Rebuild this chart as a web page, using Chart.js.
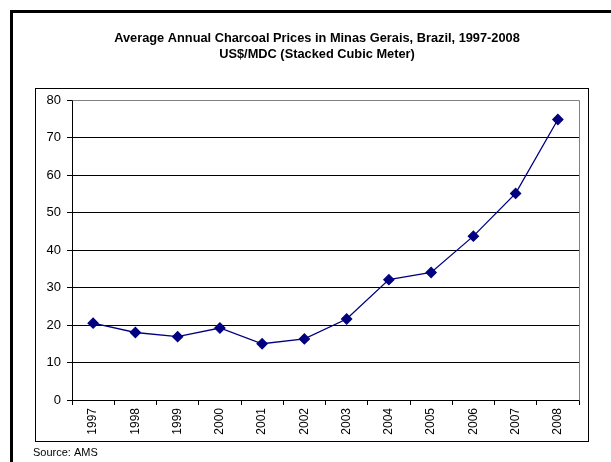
<!DOCTYPE html>
<html>
<head>
<meta charset="utf-8">
<script src="https://cdn.jsdelivr.net/npm/chart.js@4/dist/chart.umd.min.js"></script>
<style>
  html, body { margin: 0; padding: 0; background: #fff; }
  canvas { display: block; }
</style>
</head>
<body>
<canvas id="myChart" width="611" height="462"></canvas>
<script>
// datos
var years = ["1997", "1998", "1999", "2000", "2001", "2002", "2003", "2004", "2005", "2006", "2007", "2008"];
var prices = [20.5, 18.0, 16.9, 19.2, 15.0, 16.3, 21.6, 32.1, 34.0, 43.7, 55.1, 74.8];
var titleLines = ["Average Annual Charcoal Prices in Minas Gerais, Brazil, 1997-2008", "US$/MDC (Stacked Cubic Meter)"];
var sourceText = "Source: AMS";

// marco, titulo, borde del area y fuente
var framePlugin = {
    id: 'frame',
    beforeDraw: function(chart) {
        var ctx = chart.ctx;
        ctx.save();
        ctx.fillStyle = '#fff';
        ctx.fillRect(0, 0, chart.width, chart.height);
        // marco exterior grueso
        ctx.fillStyle = '#000';
        ctx.fillRect(10, 10, chart.width - 10, 3);
        ctx.fillRect(10, 10, 3, chart.height - 10);
        // caja interior
        ctx.strokeStyle = '#000';
        ctx.lineWidth = 1;
        ctx.strokeRect(35.5, 88.5, 553, 353);
        // titulo
        ctx.fillStyle = '#000';
        ctx.font = 'bold 12.8px "Liberation Sans", Arial, sans-serif';
        ctx.textAlign = 'center';
        ctx.textBaseline = 'middle';
        ctx.fillText(titleLines[0], 317, 38);
        ctx.fillText(titleLines[1], 317, 54);
        // fuente
        ctx.font = '11px "Liberation Sans", Arial, sans-serif';
        ctx.textAlign = 'left';
        ctx.fillText(sourceText, 33, 453);
        ctx.restore();
    },
    beforeDatasetsDraw: function(chart) {
        var a = chart.chartArea;
        var ctx = chart.ctx;
        ctx.save();
        ctx.strokeStyle = '#808080';
        ctx.lineWidth = 1;
        ctx.beginPath();
        ctx.moveTo(Math.round(a.left) + 0.5, Math.round(a.top) + 0.5);
        ctx.lineTo(Math.round(a.right) + 0.5, Math.round(a.top) + 0.5);
        ctx.lineTo(Math.round(a.right) + 0.5, Math.round(a.bottom) + 0.5);
        ctx.stroke();
        ctx.restore();
    }
};

var ctx = document.getElementById('myChart').getContext('2d');
var myChart = new Chart(ctx, {
    type: 'line',
    data: {
        labels: years,
        datasets: [{
            data: prices,
            borderColor: '#000080',
            backgroundColor: '#000080',
            borderWidth: 1.3,
            pointStyle: 'rectRot',
            pointRadius: 5,
            pointHoverRadius: 5,
            tension: 0,
            fill: false
        }]
    },
    options: {
        responsive: false,
        animation: false,
        events: [],
        layout: {
            padding: { left: 36, top: 100, right: 32, bottom: 20 }
        },
        plugins: {
            legend: { display: false },
            title: { display: false },
            tooltip: { enabled: false }
        },
        scales: {
            x: {
                offset: true,
                afterFit: function(scale) { scale.height = 42; },
                grid: {
                    offset: true,
                    drawOnChartArea: false,
                    drawTicks: true,
                    tickLength: 5,
                    color: '#000'
                },
                border: { color: '#000', width: 1 },
                ticks: {
                    color: '#000',
                    font: { family: '"Liberation Sans", Arial, sans-serif', size: 12 },
                    minRotation: 90,
                    maxRotation: 90,
                    autoSkip: false,
                    padding: 3
                }
            },
            y: {
                min: 0,
                max: 80,
                afterFit: function(scale) { scale.width = 36; },
                grid: {
                    color: '#000',
                    lineWidth: 1,
                    tickLength: 5
                },
                border: { color: '#000', width: 1 },
                ticks: {
                    stepSize: 10,
                    color: '#000',
                    font: { family: '"Liberation Sans", Arial, sans-serif', size: 13 },
                    padding: 6
                }
            }
        }
    },
    plugins: [framePlugin]
});
</script>
</body>
</html>
